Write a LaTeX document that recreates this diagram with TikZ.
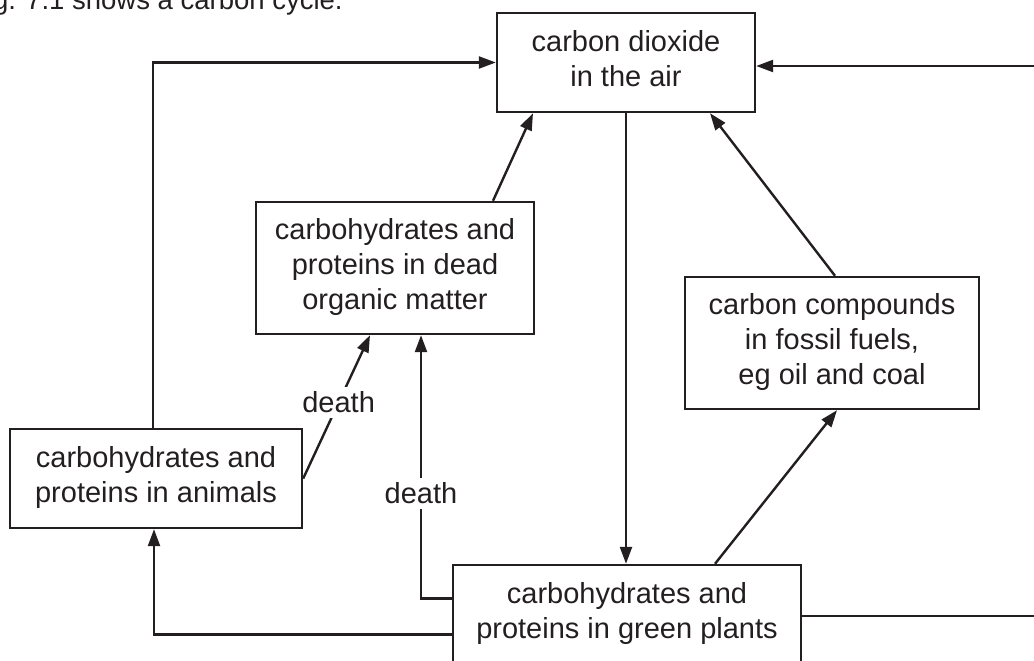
\documentclass[tikz,border=0pt]{standalone}
\usepackage{fontspec}
\setmainfont{Liberation Sans}
\usetikzlibrary{arrows.meta}
\definecolor{ink}{HTML}{231F20}
\newcommand{\ls}{\rule[-7.5bp]{0pt}{27.5bp}}
\begin{document}
\begin{tikzpicture}[x=1bp,y=-1bp,
  box/.style={draw=ink, line width=2.4bp, inner sep=0pt, align=center, text=ink,
    font=\fontsize{29bp}{35bp}\selectfont},
  lab/.style={fill=white, inner sep=5bp, text=ink, font=\fontsize{29bp}{35bp}\selectfont},
  conn/.style={draw=ink, line width=2.4bp},
  arr/.style={conn, -{Triangle[length=17bp,width=12bp]}}]
\useasboundingbox (0,0) rectangle (1034,661);
\clip (0,0) rectangle (1034,661);

\node[anchor=base west, inner sep=0pt, text=ink, font=\fontsize{27.5bp}{32bp}\selectfont] (cap) at (-30,10) {Fig. 7.1 shows a carbon cycle.};

\node[box, minimum width=258bp, minimum height=99bp] (co2) at (626,62.5) {\ls carbon dioxide\\\ls in the air};
\node[box, minimum width=278bp, minimum height=132bp] (dead) at (395,268) {\ls carbohydrates and\\\ls proteins in dead\\\ls organic matter};
\node[box, minimum width=294bp, minimum height=132bp] (fossil) at (832,343) {\ls carbon compounds\\\ls in fossil fuels,\\\ls eg oil and coal};
\node[box, minimum width=292bp, minimum height=99bp] (anim) at (156,478.5) {\ls carbohydrates and\\\ls proteins in animals};
\node[box, minimum width=348bp, minimum height=99bp] (green) at (627,614.5) {\ls carbohydrates and\\\ls proteins in green plants};

\coordinate (R) at (1045,0);

\draw[arr] ([xshift=-3bp]anim.north) |- (co2.west);
\draw[arr] ([xshift=98bp]dead.north) -- ([xshift=-93bp]co2.south);
\draw[arr] (co2.south) -- (co2.south |- green.north);
\draw[arr] ([xshift=3bp]fossil.north) -- ([xshift=84bp]co2.south);
\draw[arr] ([xshift=88bp]green.north) -- ([xshift=5bp]fossil.south);
\draw[arr] (anim.east) -- node[lab, pos=0.53] (d1) {death} ([xshift=-25bp]dead.south);
\draw[arr] ([yshift=16bp]green.west) -| node[lab, pos=0.70] (d2) {death} ([xshift=26bp]dead.south);
\draw[arr] ([yshift=-20bp]green.west) -| ([xshift=-2bp]anim.south);
\draw[arr] ([yshift=-1.5bp]green.east) -- ([yshift=-1.5bp]green.east -| R) |- ([yshift=-3.5bp]co2.east);
\end{tikzpicture}
\end{document}
